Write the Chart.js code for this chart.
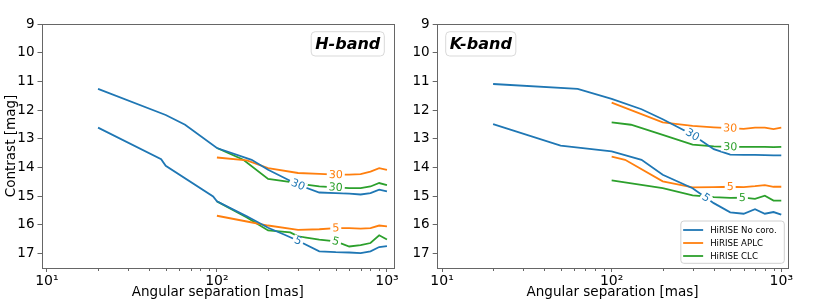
<!DOCTYPE html>
<html>
<head>
<meta charset="utf-8">
<script src="https://cdn.jsdelivr.net/npm/chart.js@4/dist/chart.umd.min.js"></script>
<style>
  html, body { margin: 0; padding: 0; background: #fff; }
  #wrap { position: relative; width: 830px; height: 302px; }
  #wrap canvas { position: absolute; top: 0; }
</style>
</head>
<body>
<div id="wrap">
  <canvas id="hband" width="415" height="302" style="left:0"></canvas>
  <canvas id="kband" width="435" height="302" style="left:395px"></canvas>
</div>
<script>
// --- Data (separation in mas, contrast in mag) ---
// H-band
const hBlue30X = [20, 50, 65, 100, 160, 200, 300, 400, 500, 600, 700, 800, 900, 1000];
const hBlue30Y = [11.26, 12.17, 12.51, 13.32, 13.73, 14.08, 14.60, 14.87, 14.89, 14.91, 14.94, 14.89, 14.77, 14.83];
const hBlue5X = [20, 47, 50, 95, 100, 150, 200, 250, 300, 400, 500, 600, 700, 800, 900, 1000];
const hBlue5Y = [12.61, 13.71, 13.94, 15.01, 15.18, 15.70, 16.10, 16.34, 16.55, 16.92, 16.95, 16.96, 16.98, 16.92, 16.77, 16.74];
const hAplcX = [100, 150, 200, 300, 400, 500, 600, 700, 800, 900, 1000];
const hAplc30Y = [13.65, 13.75, 14.02, 14.19, 14.22, 14.25, 14.25, 14.23, 14.14, 14.02, 14.08];
const hAplc5Y = [15.68, 15.88, 16.02, 16.17, 16.15, 16.11, 16.11, 16.13, 16.11, 16.02, 16.05];
const hClc30X = [100, 143, 200, 280, 300, 400, 500, 600, 700, 800, 900, 1000];
const hClc30Y = [13.32, 13.73, 14.40, 14.52, 14.56, 14.66, 14.69, 14.72, 14.72, 14.66, 14.54, 14.61];
const hClc5X = [100, 150, 200, 270, 300, 400, 500, 600, 700, 800, 900, 1000];
const hClc5Y = [15.18, 15.74, 16.19, 16.26, 16.40, 16.51, 16.57, 16.75, 16.70, 16.63, 16.36, 16.51];

// K-band
const kBlue30X = [20, 63, 100, 150, 200, 300, 400, 500, 600, 700, 800, 900, 1000];
const kBlue30Y = [11.09, 11.26, 11.61, 11.97, 12.32, 12.86, 13.36, 13.55, 13.56, 13.56, 13.57, 13.58, 13.58];
const kBlue5X = [20, 50, 100, 150, 200, 300, 400, 500, 600, 700, 800, 900, 1000];
const kBlue5Y = [12.49, 13.24, 13.44, 13.73, 14.25, 14.72, 15.24, 15.56, 15.61, 15.45, 15.61, 15.55, 15.64];
const kAplc30X = [100, 200, 300, 400, 500, 600, 700, 800, 900, 1000];
const kAplc30Y = [11.74, 12.43, 12.55, 12.60, 12.63, 12.65, 12.61, 12.61, 12.66, 12.61];
const kAplc5X = [100, 120, 200, 300, 400, 500, 600, 700, 800, 900, 1000];
const kAplc5Y = [13.62, 13.73, 14.48, 14.69, 14.68, 14.67, 14.68, 14.65, 14.61, 14.67, 14.67];
const kClc30X = [100, 130, 200, 300, 400, 500, 600, 700, 800, 900, 1000];
const kClc30Y = [12.43, 12.51, 12.86, 13.20, 13.26, 13.28, 13.28, 13.28, 13.28, 13.29, 13.28];
const kClc5X = [100, 200, 300, 400, 500, 600, 700, 800, 900, 1000];
const kClc5Y = [14.45, 14.72, 14.97, 15.03, 15.06, 15.05, 15.09, 14.98, 15.15, 15.15];

const seriesNames = ['HiRISE No coro.', 'HiRISE APLC', 'HiRISE CLC'];
const seriesColors = ['#1f77b4', '#ff7f0e', '#2ca02c'];

// axis ticks
const xMajorTicks = [10, 100, 1000];
const xTickLabels = ['10\u00b9', '10\u00b2', '10\u00b3'];
const xMinorTicks = [20, 30, 40, 50, 60, 70, 80, 90, 200, 300, 400, 500, 600, 700, 800, 900];
const yTicks = [9, 10, 11, 12, 13, 14, 15, 16, 17];

// inline "exposure" labels: [dataset index, x position (mas), text]
const hInline = [[0, 300, '30'], [1, 300, '5'], [2, 500, '30'], [3, 500, '5'], [4, 500, '30'], [5, 500, '5']];
const kInline = [[0, 300, '30'], [1, 360, '5'], [2, 500, '30'], [3, 500, '5'], [4, 500, '30'], [5, 590, '5']];

const FONT = '"DejaVu Sans", "Liberation Sans", sans-serif';

function pts(xs, ys) {
  return xs.map((x, i) => ({ x: x, y: ys[i] }));
}

function line(label, color, xs, ys) {
  return {
    label: label,
    data: pts(xs, ys),
    borderColor: color,
    backgroundColor: color,
    borderWidth: 1.8,
    pointRadius: 0,
    tension: 0,
    fill: false
  };
}

// --- Plugins ---
const framePlugin = {
  id: 'frame',
  afterDatasetsDraw(chart) {
    const { ctx, chartArea: a } = chart;
    const xs = chart.scales.x;
    const l = Math.round(a.left) + 0.5, r = Math.round(a.right) + 0.5;
    const t = Math.round(a.top) + 0.5, b = Math.round(a.bottom) + 0.5;
    ctx.save();
    ctx.strokeStyle = '#666';
    ctx.lineWidth = 1;
    ctx.strokeRect(l, t, r - l, b - t);
    // minor ticks on the log axis
    ctx.beginPath();
    xMinorTicks.forEach(v => {
      const px = Math.round(xs.getPixelForValue(v)) + 0.5;
      ctx.moveTo(px, b);
      ctx.lineTo(px, b + 2.5);
    });
    ctx.stroke();
    ctx.restore();
  }
};

function yAtPixel(points, px) {
  for (let i = 0; i < points.length - 1; i++) {
    const p = points[i], q = points[i + 1];
    if (px >= p.x && px <= q.x) {
      const t = (px - p.x) / (q.x - p.x || 1);
      return p.y + t * (q.y - p.y);
    }
  }
  return points[points.length - 1].y;
}

const inlinePlugin = {
  id: 'inlineLabels',
  afterDatasetsDraw(chart, args, opts) {
    const { ctx } = chart;
    const xs = chart.scales.x;
    ctx.save();
    ctx.font = '11px ' + FONT;
    ctx.textAlign = 'center';
    ctx.textBaseline = 'middle';
    (opts.items || []).forEach(([ds, xv, text]) => {
      const points = chart.getDatasetMeta(ds).data;
      const px = xs.getPixelForValue(xv);
      const py = yAtPixel(points, px);
      const y0 = yAtPixel(points, px - 10), y1 = yAtPixel(points, px + 10);
      const ang = Math.atan2(y1 - y0, 20);
      const w = ctx.measureText(text).width;
      ctx.save();
      ctx.translate(px, py);
      ctx.rotate(ang);
      ctx.fillStyle = '#fff';
      ctx.fillRect(-w / 2 - 2, -4.5, w + 4, 9);
      ctx.fillStyle = chart.data.datasets[ds].borderColor;
      ctx.fillText(text, 0, 0.5);
      ctx.restore();
    });
    ctx.restore();
  }
};

const bandBoxPlugin = {
  id: 'bandBox',
  afterDraw(chart, args, opts) {
    if (!opts.text) return;
    const { ctx, chartArea: a } = chart;
    ctx.save();
    ctx.font = 'italic bold 16px ' + FONT;
    const tw = ctx.measureText(opts.text).width;
    const w = tw + 8, h = 24.3;
    const x = opts.side === 'right' ? a.right - 9.7 - w : a.left + 9;
    const y = a.top + 7.7;
    ctx.beginPath();
    ctx.roundRect(x, y, w, h, 4);
    ctx.fillStyle = '#fff';
    ctx.fill();
    ctx.strokeStyle = '#d9d9d9';
    ctx.lineWidth = 1;
    ctx.stroke();
    ctx.fillStyle = '#000';
    ctx.textAlign = 'center';
    ctx.textBaseline = 'middle';
    ctx.fillText(opts.text, x + w / 2, y + h / 2 + 0.5);
    ctx.restore();
  }
};

const innerLegendPlugin = {
  id: 'innerLegend',
  afterDraw(chart, args, opts) {
    if (!opts.show) return;
    const { ctx, chartArea: a } = chart;
    ctx.save();
    ctx.font = '8.6px ' + FONT;
    const tw = Math.max(...seriesNames.map(s => ctx.measureText(s).width));
    const w = 2.3 + 20 + 7 + tw + 7.6, h = 42.3;
    const x = a.right - 4 - w, y = a.bottom - 4.7 - h;
    ctx.beginPath();
    ctx.roundRect(x, y, w, h, 3);
    ctx.fillStyle = 'rgba(255,255,255,0.8)';
    ctx.fill();
    ctx.strokeStyle = '#d0d0d0';
    ctx.lineWidth = 1;
    ctx.stroke();
    ctx.textBaseline = 'middle';
    seriesNames.forEach((name, i) => {
      const cy = y + 9 + i * 13;
      ctx.strokeStyle = seriesColors[i];
      ctx.lineWidth = 1.8;
      ctx.beginPath();
      ctx.moveTo(x + 2.3, cy);
      ctx.lineTo(x + 22.3, cy);
      ctx.stroke();
      ctx.fillStyle = '#000';
      ctx.fillText(name, x + 29.3, cy + 0.5);
    });
    ctx.restore();
  }
};

// --- Chart builder ---
function makeChart(id, datasets, cfg) {
  return new Chart(document.getElementById(id), {
    type: 'line',
    data: { datasets: datasets },
    options: {
      responsive: false,
      animation: false,
      events: [],
      layout: { padding: { top: 24, right: cfg.padRight, bottom: 0, left: 0 } },
      plugins: {
        legend: { display: false },
        tooltip: { enabled: false },
        inlineLabels: { items: cfg.inline },
        bandBox: { text: cfg.band, side: cfg.side },
        innerLegend: { show: cfg.legend }
      },
      scales: {
        x: {
          type: 'logarithmic',
          min: 9.3,
          max: 1100,
          afterBuildTicks: s => { s.ticks = xMajorTicks.map(v => ({ value: v, major: true })); },
          afterFit: s => { s.height = 34; },
          ticks: {
            callback: v => { const i = xMajorTicks.indexOf(v); return i >= 0 ? xTickLabels[i] : ''; },
            autoSkip: false,
            maxRotation: 0,
            padding: 1,
            color: '#000',
            font: { size: 14, family: FONT }
          },
          grid: { drawOnChartArea: false, drawTicks: true, tickLength: 4, tickColor: '#666', tickWidth: 1 },
          border: { display: false },
          title: {
            display: true,
            text: 'Angular separation [mas]',
            color: '#000',
            font: { size: 13.5, family: FONT },
            padding: { top: 0, bottom: 1 }
          }
        },
        y: {
          reverse: true,
          min: 9,
          max: 17.5,
          afterBuildTicks: s => { s.ticks = yTicks.map(v => ({ value: v })); },
          afterFit: s => { s.width = cfg.yWidth; },
          ticks: { padding: 3, color: '#000', font: { size: 13.5, family: FONT } },
          grid: { drawOnChartArea: false, drawTicks: true, tickLength: 4, tickColor: '#666', tickWidth: 1 },
          border: { display: false },
          title: {
            display: cfg.yTitle,
            text: 'Contrast [mag]',
            color: '#000',
            font: { size: 13.5, family: FONT },
            padding: { top: 3, bottom: 0 }
          }
        }
      }
    },
    plugins: [framePlugin, inlinePlugin, bandBoxPlugin, innerLegendPlugin]
  });
}

makeChart('hband', [
  line(seriesNames[0], seriesColors[0], hBlue30X, hBlue30Y),
  line(seriesNames[0], seriesColors[0], hBlue5X, hBlue5Y),
  line(seriesNames[1], seriesColors[1], hAplcX, hAplc30Y),
  line(seriesNames[1], seriesColors[1], hAplcX, hAplc5Y),
  line(seriesNames[2], seriesColors[2], hClc30X, hClc30Y),
  line(seriesNames[2], seriesColors[2], hClc5X, hClc5Y)
], { padRight: 21, yWidth: 41.5, yTitle: true, inline: hInline, band: 'H-band', side: 'right', legend: false });

// right panel canvas starts at x=395 so its y tick labels have room
makeChart('kband', [
  line(seriesNames[0], seriesColors[0], kBlue30X, kBlue30Y),
  line(seriesNames[0], seriesColors[0], kBlue5X, kBlue5Y),
  line(seriesNames[1], seriesColors[1], kAplc30X, kAplc30Y),
  line(seriesNames[1], seriesColors[1], kAplc5X, kAplc5Y),
  line(seriesNames[2], seriesColors[2], kClc30X, kClc30Y),
  line(seriesNames[2], seriesColors[2], kClc5X, kClc5Y)
], { padRight: 41.7, yWidth: 41.7, yTitle: false, inline: kInline, band: 'K-band', side: 'left', legend: true });
</script>
</body>
</html>
